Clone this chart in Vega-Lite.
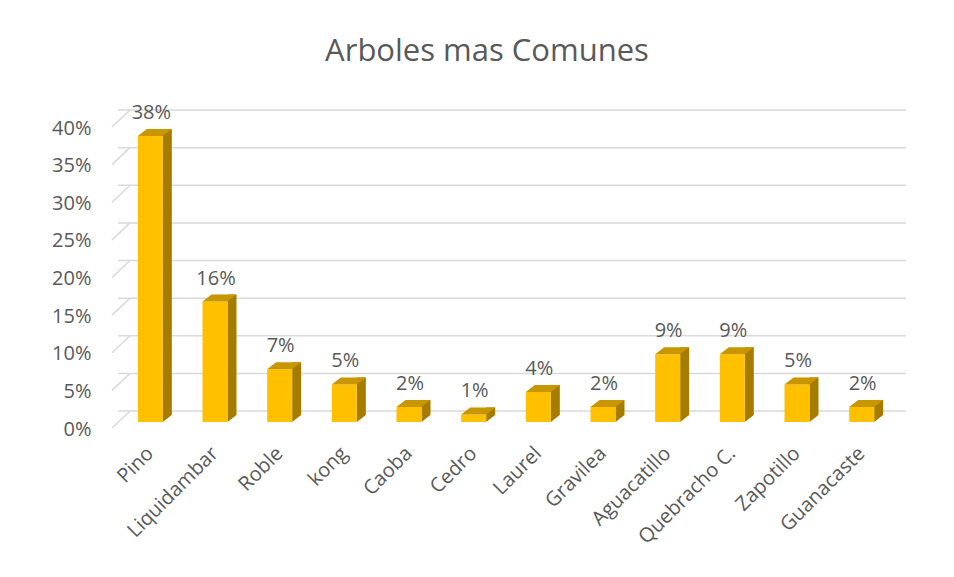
{
  "$schema": "https://vega.github.io/schema/vega-lite/v6.json",
  "width": 776,
  "height": 301,
  "autosize": {"type": "none"},
  "padding": {"left": 118, "top": 127, "right": 60, "bottom": 149},
  "background": "white",
  "config": {
    "view": {"stroke": null},
    "font": "Open Sans",
    "axisX": {
      "domain": false, "ticks": false, "grid": false,
      "labelAngle": -45, "labelAlign": "right", "labelBaseline": "middle",
      "labelFont": "Open Sans", "labelFontSize": 20, "labelColor": "#595959",
      "labelPadding": 22, "labelOverlap": false
    },
    "axisY": {
      "domain": false, "ticks": false, "grid": false,
      "labelFont": "Open Sans", "labelFontSize": 20, "labelColor": "#595959",
      "labelPadding": 27, "labelOverlap": false, "labelOffset": 1
    }
  },
  "title": {
    "text": "Arboles mas Comunes",
    "font": "Open Sans",
    "fontSize": 31,
    "fontWeight": "normal",
    "color": "#595959",
    "anchor": "middle",
    "frame": "group",
    "dx": -19,
    "offset": 35
  },
  "datasets": {
    "arboles": [
      {"arbol": "Pino", "pct": 0.38},
      {"arbol": "Liquidambar", "pct": 0.16},
      {"arbol": "Roble", "pct": 0.07},
      {"arbol": "kong", "pct": 0.05},
      {"arbol": "Caoba", "pct": 0.02},
      {"arbol": "Cedro", "pct": 0.01},
      {"arbol": "Laurel", "pct": 0.04},
      {"arbol": "Gravilea", "pct": 0.02},
      {"arbol": "Aguacatillo", "pct": 0.09},
      {"arbol": "Quebracho C.", "pct": 0.09},
      {"arbol": "Zapotillo", "pct": 0.05},
      {"arbol": "Guanacaste", "pct": 0.02}
    ],
    "grid": [
      {"v": 0}, {"v": 0.05}, {"v": 0.1}, {"v": 0.15}, {"v": 0.2},
      {"v": 0.25}, {"v": 0.3}, {"v": 0.35}, {"v": 0.4}
    ]
  },
  "layer": [
    {
      "data": {"name": "grid"},
      "mark": {"type": "rule", "color": "#D9D9D9", "strokeWidth": 1.5, "xOffset": 12, "x2Offset": 16, "yOffset": -17},
      "encoding": {
        "y": {
          "field": "v", "type": "quantitative", "title": null,
          "scale": {"domain": [0, 0.4], "nice": false},
          "axis": {
            "values": [0, 0.05, 0.1, 0.15, 0.2, 0.25, 0.3, 0.35, 0.4],
            "format": ".0%",
            "labelOverlap": false,
            "tickCount": 9
          }
        }
      }
    },
    {
      "data": {"name": "grid"},
      "mark": {"type": "rule", "color": "#D9D9D9", "strokeWidth": 1.5, "xOffset": -6, "x2Offset": 12, "y2Offset": -17},
      "encoding": {
        "x": {"datum": "Pino", "type": "nominal", "bandPosition": 0, "title": null},
        "x2": {"datum": "Pino", "bandPosition": 0},
        "y": {"field": "v", "type": "quantitative", "title": null},
        "y2": {"field": "v"}
      }
    },
    {
      "data": {"name": "arboles"},
      "mark": {"type": "bar", "color": "#A67C00", "width": 9, "xOffset": 17, "yOffset": -13, "y2Offset": -13},
      "encoding": {
        "x": {
          "field": "arbol", "type": "nominal", "sort": null, "title": null,
          "scale": {"paddingInner": 0, "paddingOuter": 0}
        },
        "y": {"field": "pct", "type": "quantitative", "title": null}
      }
    },
    {
      "data": {"name": "arboles"},
      "mark": {"type": "point", "shape": "M 0 0 L 9 -7 L 0 -7 Z", "size": 4, "filled": true, "opacity": 1, "color": "#A67C00", "strokeWidth": 0, "xOffset": 12.5, "yOffset": -6},
      "encoding": {
        "x": {"field": "arbol", "type": "nominal", "sort": null, "title": null},
        "y": {"datum": 0, "type": "quantitative", "title": null}
      }
    },
    {
      "data": {"name": "arboles"},
      "mark": {"type": "bar", "color": "#FFC000", "width": 25, "yOffset": -6, "y2Offset": -6},
      "encoding": {
        "x": {"field": "arbol", "type": "nominal", "sort": null, "title": null},
        "y": {"field": "pct", "type": "quantitative", "title": null}
      }
    },
    {
      "data": {"name": "arboles"},
      "mark": {"type": "point", "shape": "M -12.5 0 L 12.5 0 L 21.5 -7 L -3.5 -7 Z", "size": 4, "filled": true, "opacity": 1, "color": "#C89600", "strokeWidth": 0, "yOffset": -6},
      "encoding": {
        "x": {"field": "arbol", "type": "nominal", "sort": null, "title": null},
        "y": {"field": "pct", "type": "quantitative", "title": null}
      }
    },
    {
      "data": {"name": "arboles"},
      "mark": {"type": "text", "font": "Open Sans", "fontSize": 20, "color": "#595959", "dy": -29, "dx": 1, "baseline": "middle", "align": "center"},
      "encoding": {
        "x": {"field": "arbol", "type": "nominal", "sort": null, "title": null},
        "y": {"field": "pct", "type": "quantitative", "title": null},
        "text": {"field": "pct", "type": "quantitative", "format": ".0%"}
      }
    }
  ]
}
